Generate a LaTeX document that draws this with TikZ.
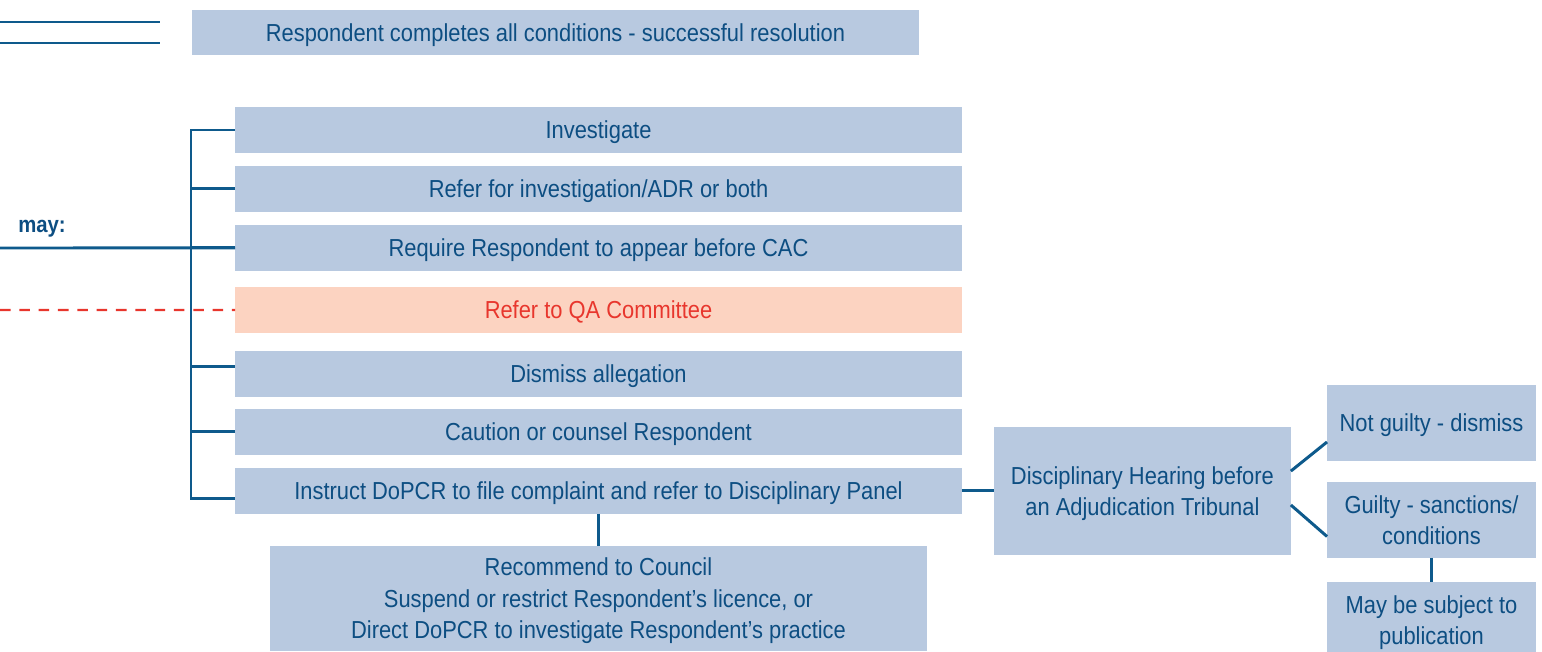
\documentclass[tikz,border=0pt]{standalone}
\usepackage{fontspec}
\setmainfont[FakeStretch=0.89]{Liberation Sans}
\usetikzlibrary{positioning, calc}

\definecolor{boxblue}{HTML}{B8C9E0}
\definecolor{txtblue}{HTML}{0D4E82}
\definecolor{lineblue}{HTML}{0E5A8C}
\definecolor{qafill}{HTML}{FCD3C1}
\definecolor{qared}{HTML}{E8362D}

\begin{document}
\begin{tikzpicture}[x=0.02cm, y=-0.02cm, node distance=0.26cm and 0.64cm,
	box/.style={fill=boxblue, text=txtblue, minimum width=14.54cm, minimum height=0.92cm,
		inner sep=0pt, outer sep=0pt, text depth=0pt, align=center, font=\fontsize{14}{18}\selectfont},
	qabox/.style={box, fill=qafill, text=qared},
	link/.style={draw=lineblue, line width=1.7pt},
	qaline/.style={draw=qared, line width=1.3pt, dash pattern=on 6pt off 5pt}]
	\useasboundingbox (0,0) rectangle (1542,652);

	% outcome at the top
	\coordinate (ta) at (0,22);  \coordinate (tb) at (160,22);
	\coordinate (tc) at (0,43);  \coordinate (td) at (160,43);
	\draw[link] (ta) -- (tb);
	\draw[link] (tc) -- (td);
	\node[box] (done) at (555.5,32.5) {Respondent completes all conditions - successful resolution};

	% options column
	\node[box] (inv) at (598.5,130) {Investigate};
	\node[box, below =of inv] (refer) {Refer for investigation/ADR or both};
	\node[box, below =of refer] (appear) {Require Respondent to appear before CAC};
	\node[qabox, below =0.32cm of appear] (qa) {Refer to QA Committee};
	\node[box, below =0.36cm of qa] (dismiss) {Dismiss allegation};
	\node[box, below =0.24cm of dismiss] (caution) {Caution or counsel Respondent};
	\node[box, below =of caution] (instruct) {Instruct DoPCR to file complaint and refer to Disciplinary Panel};
	\node[box, below =0.64cm of instruct, minimum width=13.16cm, minimum height=2.1cm] (rec)
		{Recommend to Council\\Suspend or restrict Respondent’s licence, or\\Direct DoPCR to investigate Respondent’s practice};

	% hearing and its outcomes
	\node[box, right =of instruct, minimum width=5.94cm, minimum height=2.56cm] (hear)
		{Disciplinary Hearing before\\an Adjudication Tribunal};
	\node[box, minimum width=4.18cm, minimum height=1.52cm] (notg) at (1431.5,423) {Not guilty - dismiss};
	\node[box, below =0.42cm of notg, minimum width=4.18cm, minimum height=1.52cm] (guilty) {Guilty - sanctions/\\conditions};
	\node[box, below =0.48cm of guilty, minimum width=4.18cm, minimum height=1.52cm] (publ) {May be subject to\\publication};

	% trunk and branches
	\coordinate (trunk) at (191,130);
	\coordinate (mayin) at (0,248);
	\coordinate (qain) at (0,310);
	\node[text=txtblue, font=\fontsize{13}{16}\selectfont\bfseries] (maylbl) at (42,229) {may:};
	\draw[link] (inv.west) -- (trunk) |- ([yshift=-4.5pt]instruct.west);
	\foreach \n in {refer,appear,caution}
		\draw[link] (\n.west) -- (\n.west -| trunk);
	\draw[link] ([yshift=4pt]dismiss.west) -- ([yshift=4pt]dismiss.west -| trunk);
	\draw[link] (mayin) -- (appear.west);
	\draw[qaline] (qain) -- (qa.west);

	\draw[link] (instruct.south) -- (instruct.south |- rec.north);
	\draw[link] (instruct.east) -- (hear.west);
	\draw[link] ([yshift=11.3pt]hear.east) -- ([yshift=-10.8pt]notg.west);
	\draw[link] ([yshift=-8pt]hear.east) -- ([yshift=-9.4pt]guilty.west);
	\draw[link] (guilty.south) -- (publ.north);
\end{tikzpicture}
\end{document}
